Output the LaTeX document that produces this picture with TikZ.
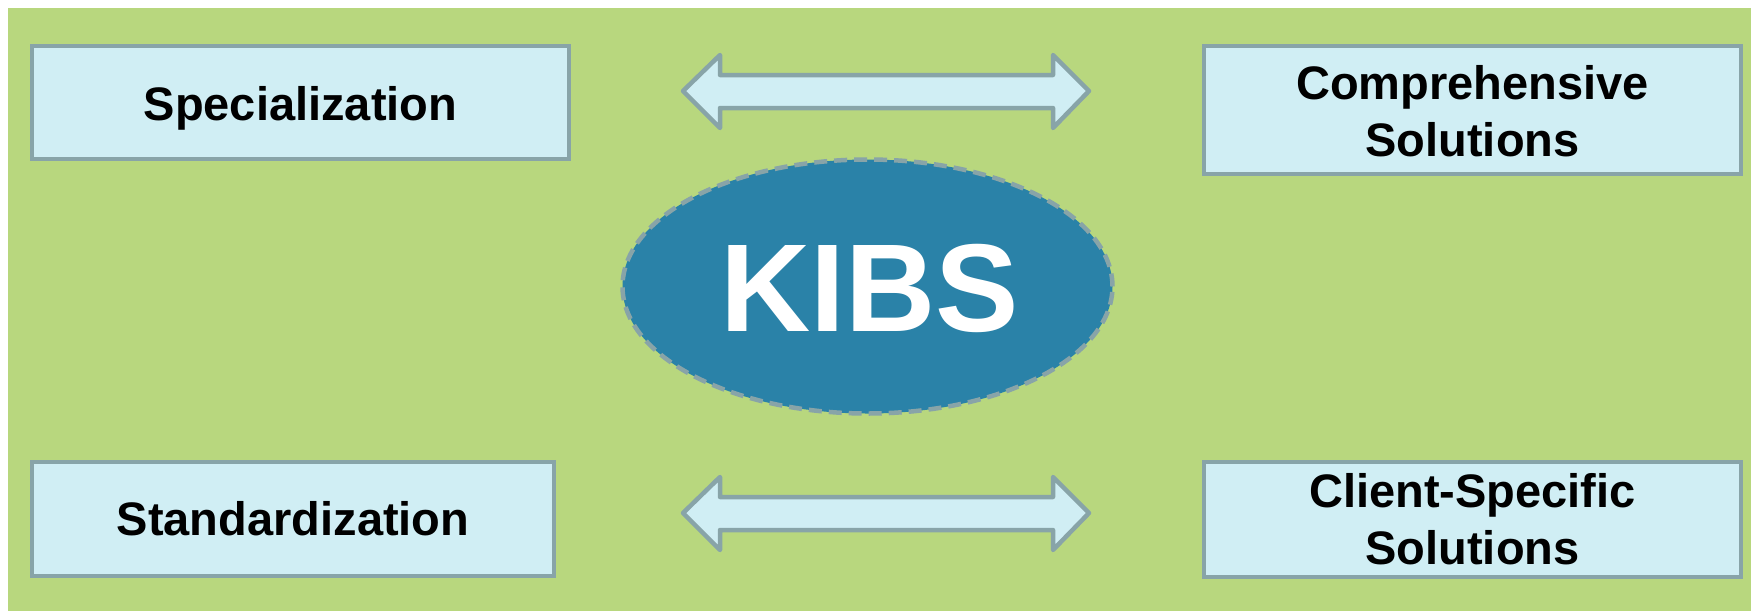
\documentclass[tikz,border=0pt]{standalone}
\usepackage{fontspec}
\setmainfont{Liberation Sans}
\usetikzlibrary{shapes.geometric}
\definecolor{bggreen}{HTML}{B8D77E}
\definecolor{boxfill}{HTML}{D0EEF4}
\definecolor{boxline}{HTML}{88A4A8}
\definecolor{kibsblue}{HTML}{2A82A8}
\tikzset{
  labelbox/.style={draw=boxline, fill=boxfill, line width=4.5pt, rectangle, inner sep=0pt,
    align=center, font=\fontsize{47}{57}\selectfont\bfseries, text=black},
  dblarrow/.style={draw=boxline, fill=boxfill, line width=4.5pt, line join=round},
  hub/.style={ellipse, draw=boxline, fill=kibsblue, line width=4.5pt, dash pattern=on 13pt off 7pt,
    inner sep=0pt},
  hubtext/.style={inner sep=0pt, text=white, font=\fontsize{125}{130}\selectfont\bfseries}
}
\begin{document}
\begin{tikzpicture}[x=1pt,y=-1pt]
\useasboundingbox (0,0) rectangle (1751,611);
\fill[bggreen] (8,8) rectangle (1751,611);
\node[labelbox, minimum width=537pt, minimum height=113pt] (spec) at (300.5,102.5) {};
\node[labelbox, minimum width=537pt, minimum height=128pt] (comp) at (1472.5,110) {};
\node[labelbox, minimum width=522pt, minimum height=114pt] (std) at (293,519) {};
\node[labelbox, minimum width=537pt, minimum height=115pt] (cli) at (1472.5,519.5) {};
\node[labelbox, draw=none, fill=none] (spectext) at ([yshift=-5.5pt]spec.center) {Specialization};
\node[labelbox, draw=none, fill=none] (comptext) at ([yshift=-1pt]comp.center) {Comprehensive\\Solutions};
\node[labelbox, draw=none, fill=none] (stdtext) at (std.center) {Standardization};
\node[labelbox, draw=none, fill=none] (clitext) at (cli.center) {Client-Specific\\Solutions};
\node[hub, minimum width=490pt, minimum height=254pt] (kibs) at (867.5,286.5) {};
\node[hubtext] (kibslabel) at ([xshift=2.5pt,yshift=-2pt]kibs.center) {KIBS};
\draw[dblarrow] (683,91) -- (720,55) -- (720,75) -- (1053,75) -- (1053,55) -- (1089,91)
  -- (1053,128) -- (1053,108) -- (720,108) -- (720,128) -- cycle;
\draw[dblarrow] (683,513) -- (720,477) -- (720,497) -- (1053,497) -- (1053,477) -- (1089,513)
  -- (1053,550) -- (1053,530) -- (720,530) -- (720,550) -- cycle;
\end{tikzpicture}
\end{document}
